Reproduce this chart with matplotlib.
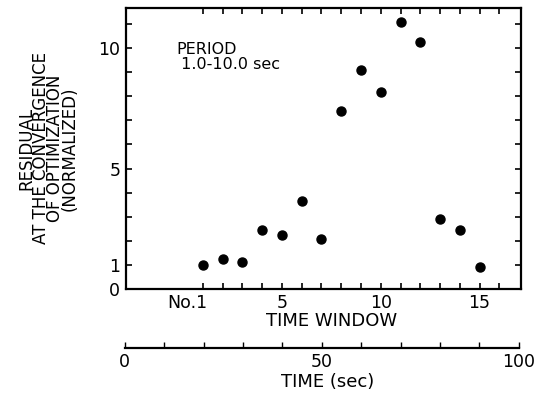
import numpy as np
import matplotlib.pyplot as plt
from matplotlib.transforms import ScaledTranslation

# residual at convergence for each time window (period 1.0-10.0 sec)
window = [1, 2, 3, 4, 5, 6, 7, 8, 9, 10, 11, 12, 13, 14, 15]
residual = [1.0, 1.25, 1.12, 2.45, 2.25, 3.67, 2.08, 7.4, 9.1, 8.17, 11.08, 10.25, 2.9, 2.45, 0.92]

y_ticks = list(range(0, 12))
y_labels = ['0', '1', '5', '10']
x_ticks = list(range(1, 17))
x_labels = {1: 'No.1', 5: '5', 10: '10', 15: '15'}
time_ticks = list(range(0, 101, 10))
time_labels = {0: '0', 50: '50', 100: '100'}

plt.rcParams['font.family'] = 'DejaVu Sans'
fig = plt.figure(figsize=(5.52, 3.99), dpi=100)

ax = fig.add_axes([0.228, 0.276, 0.716, 0.704])
ax.plot(window, residual, 'o', color='black', markersize=6.5)
ax.set_xlim(-2.9, 17.1)
ax.set_ylim(0, 11.67)

ax.set_yticks(y_ticks)
ax.set_yticklabels([str(t) if str(t) in y_labels else '' for t in y_ticks])
ax.set_xticks(x_ticks)
ax.set_xticklabels([x_labels.get(t, '') for t in x_ticks])
ax.tick_params(direction='in', length=4.5, width=1.2, top=True, right=True,
               labelsize=12.5, pad=4)
for s in ax.spines.values():
    s.set_linewidth(1.6)

# "No.1" sits with its 1 on the tick
first = ax.get_xticklabels()[0]
first.set_ha('right')
first.set_transform(first.get_transform() + ScaledTranslation(0.04, 0, fig.dpi_scale_trans))

ax.set_xlabel('TIME WINDOW', fontsize=13, labelpad=0, x=0.52)
ax.set_ylabel('RESIDUAL\nAT THE CONVERGENCE\nOF OPTIMIZATION\n(NORMALIZED)',
              fontsize=12, linespacing=0.76, labelpad=14)
ax.text(0.127, 0.88, 'PERIOD\n 1.0-10.0 sec', transform=ax.transAxes,
        fontsize=11.5, va='top', ha='left', linespacing=1.0)

# separate time axis underneath
ax2 = fig.add_axes([0.226, 0.128, 0.714, 0.0001])
ax2.set_xlim(0, 100)
ax2.set_yticks([])
for name in ['top', 'left', 'right']:
    ax2.spines[name].set_visible(False)
ax2.spines['bottom'].set_linewidth(1.6)
ax2.set_xticks(time_ticks)
ax2.set_xticklabels([time_labels.get(t, '') for t in time_ticks])
ax2.tick_params(axis='x', direction='in', length=4, width=1.0,
                labelsize=12.5, pad=4)
ax2.set_xlabel('TIME (sec)', fontsize=13, labelpad=1, x=0.514)

fig.savefig('out.png', dpi=100)
